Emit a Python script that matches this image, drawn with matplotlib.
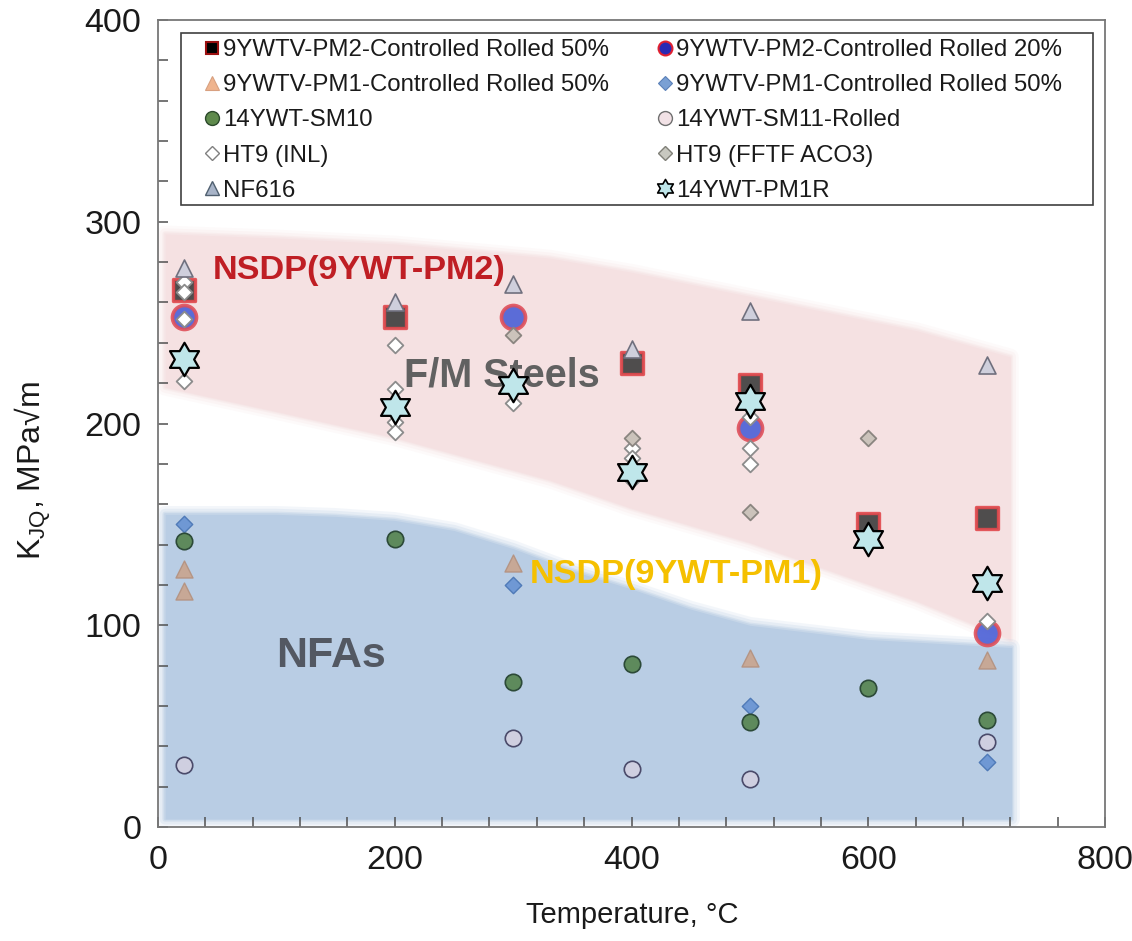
import numpy as np
import matplotlib
matplotlib.use("Agg")
import matplotlib.pyplot as plt
from matplotlib.path import Path
from matplotlib.lines import Line2D
from matplotlib.patches import Rectangle
from matplotlib.ticker import MultipleLocator

plt.rcParams['font.family'] = ['Liberation Sans', 'DejaVu Sans']
plt.rcParams['mathtext.fontset'] = 'custom'
plt.rcParams['mathtext.rm'] = 'Liberation Sans'
plt.rcParams['mathtext.it'] = 'Liberation Sans:italic'

# ---------------- data ----------------
pm2_50_T = [22, 200, 400, 500, 600, 700]
pm2_50_K = [266, 253, 230, 219, 150, 153]

pm2_20_T = [22, 300, 500, 700]
pm2_20_K = [253, 253, 198, 96]

pm1_50_tri_T = [22, 22, 300, 500, 700]
pm1_50_tri_K = [128, 117, 131, 84, 83]

pm1_50_dia_T = [22, 300, 500, 700]
pm1_50_dia_K = [150, 120, 60, 32]

sm10_T = [22, 200, 300, 400, 500, 600, 700]
sm10_K = [142, 143, 72, 81, 52, 69, 53]

sm11_T = [22, 300, 400, 500, 700]
sm11_K = [31, 44, 29, 24, 42]

ht9_inl_T = [22, 22, 22, 22, 200, 200, 200, 200, 300, 400, 400, 400, 500, 500, 500, 700]
ht9_inl_K = [270, 265, 252, 221, 239, 217, 201, 196, 210, 188, 183, 172, 203, 188, 180, 102]

ht9_fftf_T = [300, 400, 500, 600]
ht9_fftf_K = [244, 193, 156, 193]

nf616_T = [22, 200, 300, 400, 500, 700]
nf616_K = [277, 260, 269, 237, 256, 229]

pm1r_T = [22, 200, 300, 400, 500, 600, 700]
pm1r_K = [232, 208, 219, 176, 211, 143, 121]

# shaded regions (F/M steels band and NFA band)
fm_T = [6, 100, 200, 331, 400, 500, 641, 720]
fm_top = [294, 292, 289, 282, 275, 263, 246, 233]
fm_bot = [218, 206, 193, 172, 158, 141, 112, 93]

nfa_T = [6, 100, 150, 200, 250, 300, 350, 400, 450, 500, 600, 721]
nfa_top = [155, 155, 154, 152, 147, 138, 127, 118, 108, 100, 93, 89]
nfa_bot = [4, 4, 4, 4, 4, 4, 4, 4, 4, 4, 4, 4]

labels = ["9YWTV-PM2-Controlled Rolled 50%", "9YWTV-PM2-Controlled Rolled 20%",
          "9YWTV-PM1-Controlled Rolled 50%", "9YWTV-PM1-Controlled Rolled 50%",
          "14YWT-SM10", "14YWT-SM11-Rolled",
          "HT9 (INL)", "HT9 (FFTF ACO3)",
          "NF616", "14YWT-PM1R"]

# hexagram marker
ang = np.deg2rad(90 + 30 * np.arange(12))
rad = np.where(np.arange(12) % 2 == 0, 1.0, 1 / np.sqrt(3))
verts = np.column_stack([rad * np.cos(ang), rad * np.sin(ang)])
verts = np.vstack([verts, verts[:1]])
hexagram = Path(verts, [Path.MOVETO] + [Path.LINETO] * 11 + [Path.CLOSEPOLY])

# ---------------- figure ----------------
fig = plt.figure(figsize=(11.32, 9.41), dpi=100)
ax = fig.add_axes([0.1396, 0.1211, 0.8366, 0.8576])


def soft_band(x, lo, hi, color, z):
    for lw, a in [(12, 0.16), (8, 0.24), (4, 0.35), (2, 0.5)]:
        ax.fill_between(x, lo, hi, facecolor='none', edgecolor=color, lw=lw,
                        alpha=a, zorder=z)
    ax.fill_between(x, lo, hi, color=color, lw=0, zorder=z)


soft_band(fm_T, fm_bot, fm_top, '#f5e1e2', 0)
soft_band(nfa_T, nfa_bot, nfa_top, '#b9cde4', 0.5)

ax.scatter(pm2_50_T, pm2_50_K, marker='s', s=250, c='#3d3d3d', edgecolors='#e2484c',
           linewidths=2.4, alpha=0.9, zorder=3)
ax.scatter(pm2_20_T, pm2_20_K, marker='o', s=300, c='#4a5fd6', edgecolors='#e0505a',
           linewidths=2.6, alpha=0.9, zorder=3)
ax.scatter(pm1_50_tri_T, pm1_50_tri_K, marker='^', s=150, c='#c9a48e', edgecolors='#b3917f',
           linewidths=1.0, alpha=0.9, zorder=4)
ax.scatter(pm1_50_dia_T, pm1_50_dia_K, marker='D', s=70, c='#6f98d4', edgecolors='#4f7ab8',
           linewidths=1.0, zorder=4)
ax.scatter(sm10_T, sm10_K, marker='o', s=140, c='#5e8a5c', edgecolors='#2c4a38',
           linewidths=1.2, zorder=4)
ax.scatter(sm11_T, sm11_K, marker='o', s=140, c='#cfcfe0', edgecolors='#4a4a6a',
           linewidths=1.2, zorder=4)
ax.scatter(ht9_inl_T, ht9_inl_K, marker='D', s=64, c='white', edgecolors='#8c8c8c',
           linewidths=1.3, zorder=5)
ax.scatter(ht9_fftf_T, ht9_fftf_K, marker='D', s=64, c='#cbc3bb', edgecolors='#8a8580',
           linewidths=1.3, zorder=5)
ax.scatter(nf616_T, nf616_K, marker='^', s=150, c='#cfcfdc', edgecolors='#70707e',
           linewidths=1.2, zorder=5)
ax.scatter(pm1r_T, pm1r_K, marker=hexagram, s=580, c='#bfe6ea', edgecolors='black',
           linewidths=1.6, zorder=6)

# region annotations
ax.text(46, 276, "NSDP(9YWT-PM2)", color='#bf1e24', fontsize=24.7, fontweight='bold',
        va='center', ha='left', zorder=7)
ax.text(208, 224, "F/M Steels", color='#616161', fontsize=28.5, fontweight='bold',
        va='center', ha='left', zorder=2)
ax.text(314, 125, "NSDP(9YWT-PM1)", color='#f5c000', fontsize=24.7, fontweight='bold',
        va='center', ha='left', zorder=7)
ax.text(100, 85, "NFAs", color='#535862', fontsize=31, fontweight='bold',
        va='center', ha='left', zorder=2)

# axes
ax.set_xlim(0, 800)
ax.set_ylim(0, 400)
ax.xaxis.set_major_locator(MultipleLocator(200))
ax.xaxis.set_minor_locator(MultipleLocator(40))
ax.yaxis.set_major_locator(MultipleLocator(100))
ax.yaxis.set_minor_locator(MultipleLocator(20))
ax.tick_params(which='both', direction='in', length=7, width=1.1, color='#505050',
               labelsize=24.5, labelcolor='#1a1a1a')
ax.tick_params(axis='y', which='both', pad=12)
ax.tick_params(axis='x', which='both', pad=13)
for sp in ax.spines.values():
    sp.set_color('#777777')
    sp.set_linewidth(1.3)

ax.set_xlabel("Temperature, °C", fontsize=21, color='#1a1a1a')
ax.xaxis.set_label_coords(0.5005, -0.092)
ax.set_ylabel("K$_{\\mathregular{JQ}}$, MPa√m", fontsize=23, color='#1a1a1a')
ax.yaxis.set_label_coords(-0.111, 0.442)

# legend proxies
handles = [
    Line2D([], [], ls='none', marker='s', ms=9, mfc='black', mec='#9b1010', mew=1.5),
    Line2D([], [], ls='none', marker='o', ms=10, mfc='#2a2ab4', mec='#e02030', mew=1.5),
    Line2D([], [], ls='none', marker='^', ms=10, mfc='#efb48e', mec='#d8a080', mew=0.8),
    Line2D([], [], ls='none', marker='D', ms=7, mfc='#7aa0d4', mec='#5a80b8', mew=0.8),
    Line2D([], [], ls='none', marker='o', ms=10, mfc='#5e8a4c', mec='#2c4a2c', mew=1.0),
    Line2D([], [], ls='none', marker='o', ms=10, mfc='#f2e2e6', mec='#707070', mew=1.0),
    Line2D([], [], ls='none', marker='D', ms=7, mfc='white', mec='#808080', mew=1.0),
    Line2D([], [], ls='none', marker='D', ms=7, mfc='#c8c8c0', mec='#808078', mew=1.0),
    Line2D([], [], ls='none', marker='^', ms=10, mfc='#a8b4c8', mec='#506070', mew=1.0),
    Line2D([], [], ls='none', marker=hexagram, ms=13, mfc='#bfe6ea', mec='black', mew=1.2),
]
order = [0, 2, 4, 6, 8, 1, 3, 5, 7, 9]  # row-major filling in a 2-column legend
leg = ax.legend([handles[i] for i in order], [labels[i] for i in order], ncol=2,
                loc='upper left', bbox_to_anchor=(0.0496, 0.05, 0.905, 0.9265),
                mode='expand', fontsize=17.3, frameon=False,
                handlelength=0.6, handletextpad=0.15,
                labelspacing=0.55, borderpad=0, borderaxespad=0)
leg.set_zorder(10)
for t in leg.get_texts():
    t.set_color('#1a1a1a')
ax.add_patch(Rectangle((0.0243, 0.771), 0.963, 0.213, transform=ax.transAxes,
                       facecolor='white', edgecolor='#404040', lw=1.2, zorder=9))

fig.savefig("out.png", dpi=100)
